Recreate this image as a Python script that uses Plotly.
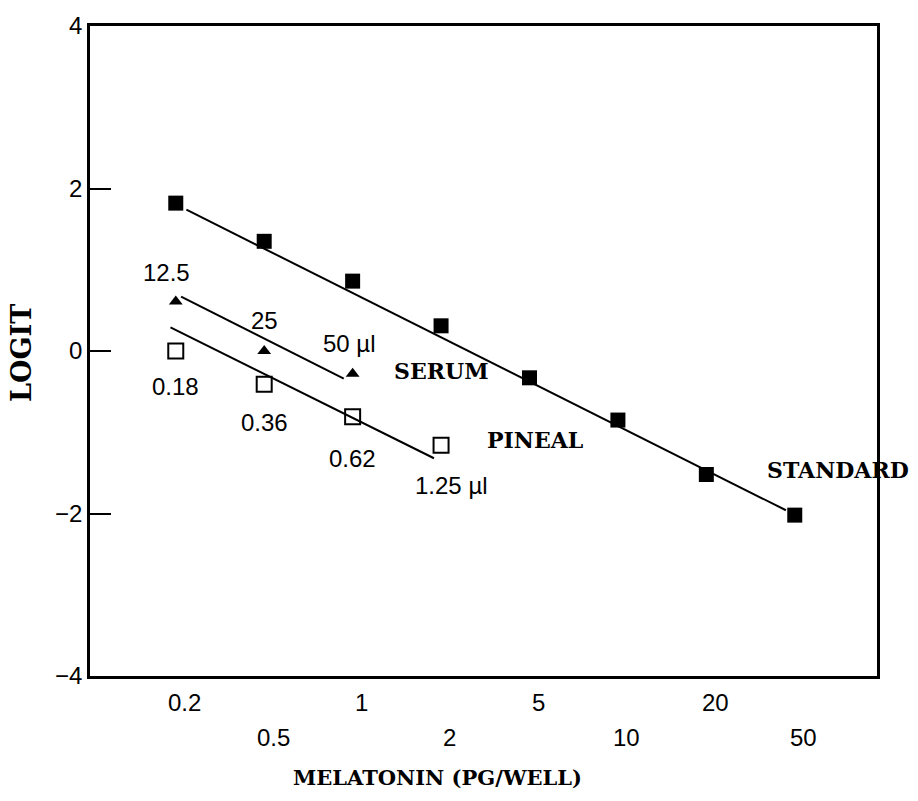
import plotly.graph_objects as go

# Melatonin doses on the x axis (plotted at equal spacing, index positions)
dose_labels = ["0.2", "0.5", "1", "2", "5", "10", "20", "50"]
dose_index = [0, 1, 2, 3, 4, 5, 6, 7]

# Standard curve (logit)
std_x = [0, 1, 2, 3, 4, 5, 6, 7]
std_y = [1.82, 1.35, 0.86, 0.31, -0.33, -0.85, -1.52, -2.02]

# Serum dilutions (µl) and logit
serum_x = [0, 1, 2]
serum_y = [0.61, 0.0, -0.28]
serum_lbl = ["12.5", "25", "50 µl"]

# Pineal dilutions (µl) and logit
pineal_x = [0, 1, 2, 3]
pineal_y = [0.0, -0.41, -0.81, -1.16]
pineal_lbl = ["0.18", "0.36", "0.62", "1.25 µl"]

# Fitted regression segments (endpoints)
std_fit_x = [0.12, 6.9]
std_fit_y = [1.74, -1.96]
serum_fit_x = [0.06, 1.9]
serum_fit_y = [0.67, -0.34]
pineal_fit_x = [-0.06, 2.92]
pineal_fit_y = [0.29, -1.32]

SANS = "Liberation Sans, Arial, sans-serif"
SERIF = "DejaVu Serif, serif"

# plot-area geometry in pixels
W, H = 918, 801
ML, MR, MT, MB = 90, 41, 20, 125
PW, PH = W - ML - MR, H - MT - MB


def px_to_paper_x(px):
    return (px - ML) / PW


def px_to_paper_y(py):
    return (H - MB - py) / PH


fig = go.Figure()

line_style = dict(color="black", width=2)
fig.add_trace(go.Scatter(x=std_fit_x, y=std_fit_y, mode="lines", line=line_style))
fig.add_trace(go.Scatter(x=serum_fit_x, y=serum_fit_y, mode="lines", line=line_style))
fig.add_trace(go.Scatter(x=pineal_fit_x, y=pineal_fit_y, mode="lines", line=line_style))

fig.add_trace(go.Scatter(
    x=std_x, y=std_y, mode="markers",
    marker=dict(symbol="square", size=15, color="black"),
))
fig.add_trace(go.Scatter(
    x=serum_x, y=serum_y, mode="markers",
    marker=dict(symbol="triangle-up", size=12, color="black"),
))
fig.add_trace(go.Scatter(
    x=pineal_x, y=pineal_y, mode="markers",
    marker=dict(symbol="square-open", size=15, color="black", line=dict(width=2)),
))

annotations = []
num_font = dict(family=SANS, size=24, color="black")

# Staggered dose labels under the axis
for i, (xi, lab) in enumerate(zip(dose_index, dose_labels)):
    annotations.append(dict(
        x=xi + 0.1, y=px_to_paper_y(703 if i % 2 == 0 else 738),
        xref="x", yref="paper", text=lab, showarrow=False,
        xanchor="center", yanchor="middle", font=num_font,
    ))

# Serum dilution labels
serum_pos = [(-0.1, 0.97, "center"), (1.0, 0.38, "center"), (1.64, 0.09, "left")]
for (px, py, anc), lab in zip(serum_pos, serum_lbl):
    annotations.append(dict(
        x=px, y=py, xref="x", yref="y", text=lab, showarrow=False,
        xanchor=anc, yanchor="middle", font=num_font,
    ))

# Pineal dilution labels
pineal_pos = [(0.0, -0.44, "center"), (1.0, -0.88, "center"), (2.0, -1.32, "center"), (2.68, -1.65, "left")]
for (px, py, anc), lab in zip(pineal_pos, pineal_lbl):
    annotations.append(dict(
        x=px, y=py, xref="x", yref="y", text=lab, showarrow=False,
        xanchor=anc, yanchor="middle", font=num_font,
    ))

# Curve names
for txt, px, py in [("SERUM", 2.45, -0.25), ("PINEAL", 3.5, -1.1), ("STANDARD", 6.66, -1.46)]:
    annotations.append(dict(
        x=px, y=py, xref="x", yref="y", text=f"<b>{txt}</b>", showarrow=False,
        xanchor="left", yanchor="middle", font=dict(family=SERIF, size=22, color="black"),
    ))

# Axis titles
annotations.append(dict(
    x=px_to_paper_x(437), y=px_to_paper_y(778), xref="paper", yref="paper",
    text="<b>MELATONIN (PG/WELL)</b>", showarrow=False,
    xanchor="center", yanchor="middle",
    font=dict(family=SERIF, size=21, color="black"),
))
annotations.append(dict(
    x=px_to_paper_x(22), y=px_to_paper_y(350), xref="paper", yref="paper",
    text="<b>LOGIT</b>", textangle=-90, showarrow=False,
    xanchor="center", yanchor="middle",
    font=dict(family=SERIF, size=27, color="black"),
))

fig.update_layout(
    width=W, height=H,
    margin=dict(l=ML, r=MR, t=MT, b=MB),
    paper_bgcolor="white", plot_bgcolor="white",
    showlegend=False,
    annotations=annotations,
)

fig.update_xaxes(
    range=[-0.97, 7.93], showticklabels=False, ticks="",
    showgrid=False, zeroline=False,
    showline=True, mirror=True, linecolor="black", linewidth=2.5,
)
fig.update_yaxes(
    range=[-4, 4], tickvals=[-4, -2, 0, 2, 4], ticktext=["\u22124", "\u22122", "0", "2", "4"],
    ticks="inside", ticklen=21, tickwidth=2, tickcolor="black",
    tickfont=dict(family=SANS, size=24, color="black"),
    showgrid=False, zeroline=False,
    showline=True, mirror=True, linecolor="black", linewidth=2.5,
)

fig.write_html("out.html")
